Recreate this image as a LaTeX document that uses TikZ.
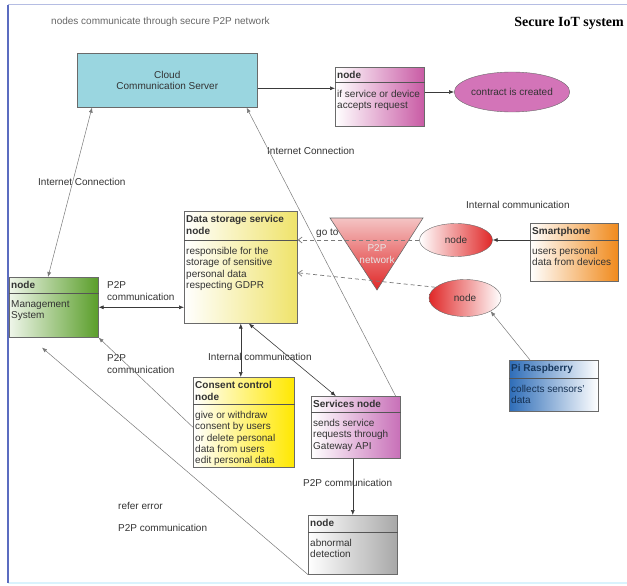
\documentclass[tikz,border=0pt]{standalone}
\usepackage{fontspec}
\setmainfont{Liberation Sans}
\newfontfamily\titlefont{Liberation Serif}
\usetikzlibrary{arrows.meta,shapes.geometric}

\definecolor{framblue}{HTML}{5B6CC0}
\definecolor{boxgray}{HTML}{6A6A6A}
\definecolor{textdark}{HTML}{333333}
\definecolor{linkdark}{HTML}{3A3A3A}
\definecolor{linkgray}{HTML}{7A7A7A}
\definecolor{cloudcyan}{HTML}{9AD6E0}
\definecolor{reqpink}{HTML}{C95BA5}
\definecolor{contractpink}{HTML}{D374B8}
\definecolor{mgmtgreen}{HTML}{5A9E2A}
\definecolor{storeyellow}{HTML}{EFE36A}
\definecolor{consentyellow}{HTML}{FFE800}
\definecolor{servpink}{HTML}{C870B8}
\definecolor{abngray}{HTML}{A8A8A8}
\definecolor{phoneorange}{HTML}{F08A1C}
\definecolor{piblue}{HTML}{2E6DB8}
\definecolor{relayred}{HTML}{E02828}
\definecolor{p2ppink}{HTML}{F4C4C4}

\tikzset{
	umlbox/.style={draw=boxgray, line width=0.6pt, anchor=north west, inner sep=0pt},
	headtext/.style={anchor=north west, inner xsep=2pt, inner ysep=4.5pt, align=left,
		font=\fontsize{10}{11.8}\selectfont\bfseries, text=textdark},
	bodytext/.style={anchor=north west, inner xsep=2pt, inner ysep=7pt, align=left,
		font=\fontsize{10}{11.3}\selectfont, text=textdark},
	plain/.style={inner sep=1pt, align=left, font=\fontsize{10}{11.5}\selectfont, text=textdark},
	sepline/.style={draw=boxgray!80!black, line width=1pt},
	link/.style={draw=linkdark, line width=0.6pt},
	farlink/.style={draw=linkgray, line width=0.5pt},
	hint/.style={draw=linkgray, line width=0.7pt, dash pattern=on 4pt off 3pt},
	tip/.style={-{Latex[length=5pt,width=4pt]}},
	twotips/.style={{Latex[length=5pt,width=4pt]}-{Latex[length=5pt,width=4pt]}},
	opentip/.style={-{Straight Barb[length=4pt,width=6pt]}}
}

\begin{document}
\begin{tikzpicture}[x=1pt,y=-1pt]
	\useasboundingbox (0,0) rectangle (627,586);
	
	% Frame
	\draw[framblue!45, line width=1pt] (8,5) -- (627,5);
	\draw[cyan!15, line width=1.2pt] (8,583) -- (627,583);
	\draw[framblue, line width=1.6pt] (8,5) -- (8,583);
	
	\node[plain, text=gray!80!black, anchor=west] (caption) at (50,22) {nodes communicate through secure P2P network};
	\node[inner sep=0pt, anchor=east, font=\titlefont\bfseries\fontsize{14}{16}\selectfont] (title) at (624,23) {Secure IoT system};
	
	% Cloud and contract
	\node[umlbox, fill=cloudcyan, minimum width=180, minimum height=54, align=center,
		font=\fontsize{10}{11.3}\selectfont, text=textdark] (cloud) at (77,53) {Cloud\\Communication Server};
	
	\node[umlbox, left color=white, right color=reqpink, minimum width=89, minimum height=59] (request) at (335,67) {};
	\node[headtext] (request-head) at (request.north west) {node};
	\draw[sepline] (request.west |- 0,83) -- (request.east |- 0,83);
	\node[bodytext] (request-body) at (request.west |- 0,83) {if service or device\\accepts request};
	
	\node[ellipse, draw=boxgray, fill=contractpink, minimum width=91, minimum height=40, inner sep=0pt,
		font=\fontsize{10}{11.3}\selectfont, text=textdark] (contract) at (512,92) {contract is created};
	
	% Management
	\node[umlbox, left color=mgmtgreen!10, right color=mgmtgreen, minimum width=89, minimum height=60] (mgmt) at (9,277) {};
	\node[headtext] (mgmt-head) at (mgmt.north west) {node};
	\draw[sepline] (mgmt.west |- 0,293) -- (mgmt.east |- 0,293);
	\node[bodytext] (mgmt-body) at (mgmt.west |- 0,293) {Management\\System};
	
	% Data storage
	\node[umlbox, left color=white, right color=storeyellow, minimum width=113, minimum height=112] (storage) at (184,211) {};
	\node[headtext] (storage-head) at (storage.north west) {Data storage service\\node};
	\draw[sepline] (storage.west |- 0,240) -- (storage.east |- 0,240);
	\node[bodytext] (storage-body) at (storage.west |- 0,240) {responsible for the\\storage of sensitive\\personal data\\respecting GDPR};
	
	% Consent control
	\node[umlbox, left color=white, right color=consentyellow, minimum width=101, minimum height=90] (consent) at (193,377) {};
	\node[headtext] (consent-head) at (consent.north west) {Consent control\\node};
	\draw[sepline] (consent.west |- 0,404) -- (consent.east |- 0,404);
	\node[bodytext] (consent-body) at (consent.west |- 0,404) {give or withdraw\\consent by users\\or delete personal\\data from users\\edit personal data};
	
	% Services
	\node[umlbox, left color=white, right color=servpink, minimum width=89, minimum height=62] (services) at (311,396) {};
	\node[headtext] (services-head) at (services.north west) {Services node};
	\draw[sepline] (services.west |- 0,412) -- (services.east |- 0,412);
	\node[bodytext] (services-body) at (services.west |- 0,412) {sends service\\requests through\\Gateway API};
	
	% Abnormal detection
	\node[umlbox, left color=white, right color=abngray, minimum width=89, minimum height=59] (abnormal) at (308,515) {};
	\node[headtext] (abnormal-head) at (abnormal.north west) {node};
	\draw[sepline] (abnormal.west |- 0,532) -- (abnormal.east |- 0,532);
	\node[bodytext] (abnormal-body) at (abnormal.west |- 0,532) {abnormal\\detection};
	
	% Devices
	\node[umlbox, left color=white, right color=phoneorange, minimum width=88, minimum height=58] (phone) at (530,223) {};
	\node[headtext] (phone-head) at (phone.north west) {Smartphone};
	\draw[sepline] (phone.west |- 0,240) -- (phone.east |- 0,240);
	\node[bodytext] (phone-body) at (phone.west |- 0,240) {users personal\\data from devices};
	
	\node[umlbox, left color=piblue, right color=white, minimum width=89, minimum height=51] (pi) at (509,360) {};
	\node[headtext, text=piblue!50!black] (pi-head) at (pi.north west) {Pi Raspberry};
	\draw[sepline] (pi.west |- 0,378) -- (pi.east |- 0,378);
	\node[bodytext, text=piblue!45!black] (pi-body) at (pi.west |- 0,378) {collects sensors'\\data};
	
	\node[ellipse, draw=boxgray, left color=white, right color=relayred, minimum width=73, minimum height=33, inner sep=0pt,
		font=\fontsize{10}{11.3}\selectfont, text=textdark] (relayA) at (456,240) {node};
	\node[ellipse, draw=boxgray, left color=relayred, right color=white, minimum width=72, minimum height=37, inner sep=0pt,
		font=\fontsize{10}{11.3}\selectfont, text=textdark] (relayB) at (465,298) {node};
	
	% P2P network
	\node[plain, anchor=west] (goto) at (315,233) {go to};
	\draw[draw=boxgray, line width=0.6pt, top color=p2ppink, bottom color=relayred] (330,218) -- (423,218) -- (377,290) -- cycle;
	\node[plain, align=center, text=white!80!gray] (p2p) at (377,254) {P2P\\network};
	
	% Labels
	\node[plain, anchor=west] (inet-left) at (37,182) {Internet Connection};
	\node[plain, anchor=west] (inet-right) at (266,151) {Internet Connection};
	\node[plain, anchor=west] (p2p-upper) at (106,291) {P2P\\communication};
	\node[plain, anchor=west] (p2p-lower) at (106,364) {P2P\\communication};
	\node[plain, anchor=west] (internal-left) at (207,357) {Internal communication};
	\node[plain, anchor=west] (internal-right) at (465,205) {Internal communication};
	\node[plain, anchor=west] (p2p-services) at (302,483) {P2P communication};
	\node[plain, anchor=west] (refer) at (117,506) {refer error};
	\node[plain, anchor=west] (p2p-refer) at (117,528) {P2P communication};
	
	% Connectors
	\draw[link, tip] ([yshift=-8pt]cloud.east) -- ([yshift=-8pt]cloud.east -| request.west);
	\draw[link, tip] (request.east |- contract.west) -- (contract.west);
	\draw[farlink, twotips] ([xshift=15pt]cloud.south west) -- ([xshift=39pt]mgmt.north west);
	\draw[farlink, tip] ([xshift=-5pt]services.north east) -- ([xshift=-11pt]cloud.south east);
	\draw[link, twotips] (mgmt.east) -- (mgmt.east -| storage.west);
	\draw[link, twotips] (storage.south) -- (storage.south |- consent.north);
	\draw[link, twotips] ([xshift=8pt]storage.south) -- ([xshift=-20pt]services.north);
	\draw[link, tip] (abnormal.north |- services.south) -- (abnormal.north);
	\draw[farlink, tip] ([yshift=-5pt]consent.west) -- (mgmt.south east);
	\draw[farlink, tip] (abnormal.south west) -- ([xshift=33pt,yshift=-10pt]mgmt.south west);
	\draw[link, tip] (phone.west |- relayA.east) -- (relayA.east);
	\draw[farlink, tip] ([xshift=21pt]pi.north west) -- (relayB.south east);
	\draw[hint, opentip] (relayA.west) -- (relayA.west -| storage.east);
	\draw[hint, opentip] (relayB.160) -- ([yshift=-5.5pt]storage.east);
\end{tikzpicture}
\end{document}
